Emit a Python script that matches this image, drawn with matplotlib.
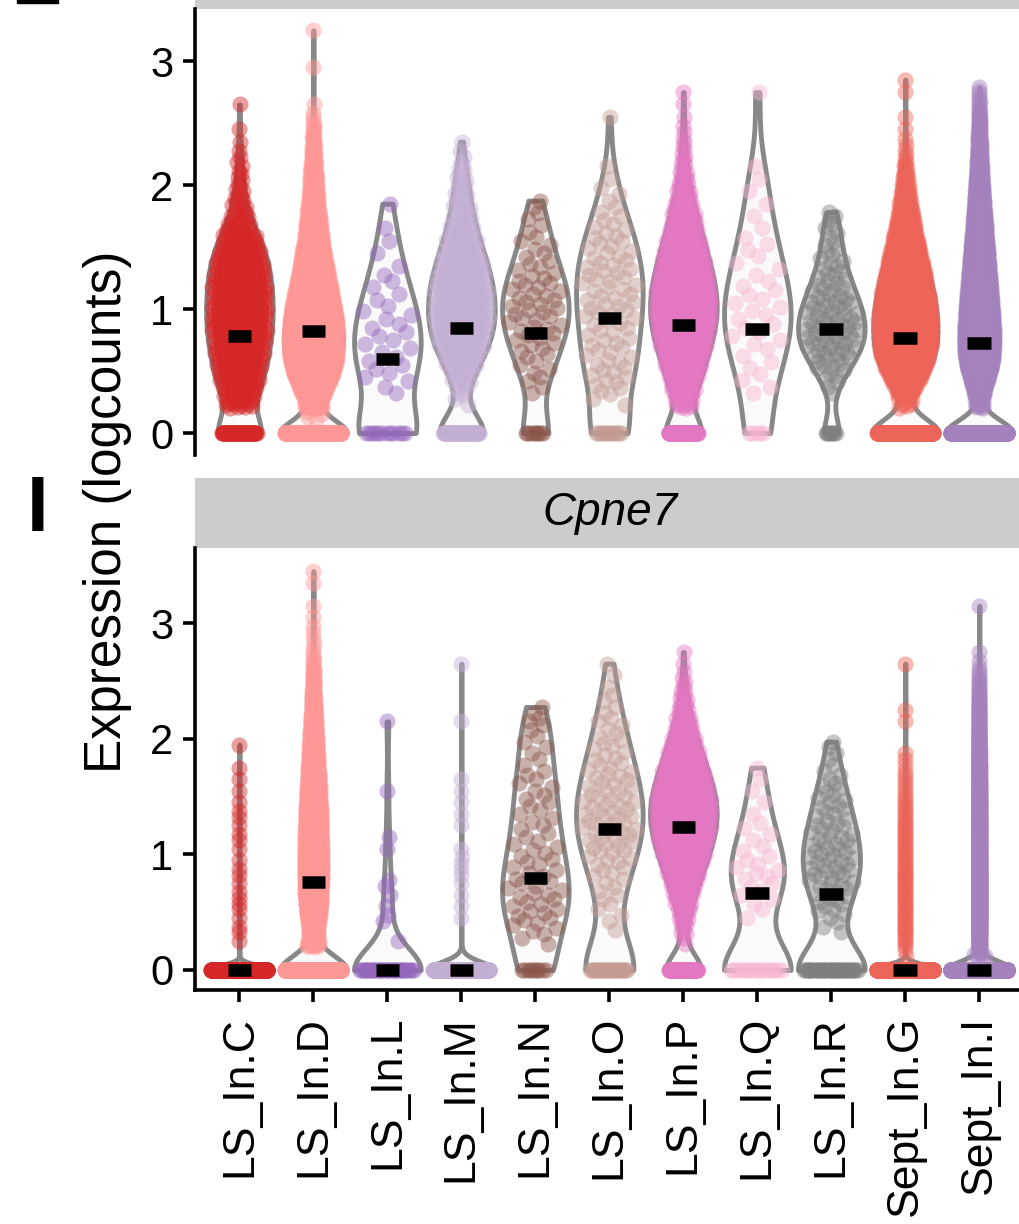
import numpy as np
import matplotlib
matplotlib.use("Agg")
import matplotlib.pyplot as plt
from matplotlib.patches import Rectangle

plt.rcParams['font.family'] = ['Liberation Sans', 'DejaVu Sans']

clusters = ["LS_In.C", "LS_In.D", "LS_In.L", "LS_In.M", "LS_In.N", "LS_In.O",
            "LS_In.P", "LS_In.Q", "LS_In.R", "Sept_In.G", "Sept_In.I"]
colors = ["#d62728", "#ff9896", "#9467bd", "#c5b0d5", "#8c564b", "#c49c94",
          "#e377c2", "#f7b6d2", "#7f7f7f", "#ee6459", "#a582be"]

# upper panel (gene name cut off at the top of the crop)
# cells with logcount 0, then cells per 0.1-wide bin starting at 0-0.1
top_zeros = [75, 680, 12, 70, 9, 14, 100, 5, 8, 375, 1490]
top_bins = [
    [0, 0, 20, 24, 27, 30, 33, 35, 36, 37, 37, 36, 35, 33, 30, 25, 17, 11, 7, 5, 4, 3, 2, 1, 1, 0, 1],
    [0, 5, 60, 130, 190, 220, 235, 240, 235, 220, 200, 175, 150, 128, 108, 90, 75, 62, 50, 40,
     32, 24, 17, 11, 6, 3, 1, 0, 0, 1, 0, 0, 1],
    [0, 0, 0, 2, 3, 3, 3, 3, 3, 3, 2, 2, 2, 1, 1, 1, 1, 0, 1],
    [0, 0, 2, 5, 10, 16, 22, 27, 30, 30, 30, 29, 27, 24, 20, 16, 13, 10, 8, 7, 6, 4, 2, 1],
    [0, 0, 0, 2, 3, 3, 4, 5, 6, 6, 6, 6, 5, 4, 3, 3, 2, 2, 2],
    [0, 0, 2, 4, 5, 5, 5, 5, 5, 6, 6, 6, 6, 6, 5, 5, 4, 3, 2, 2, 1, 1, 0, 0, 0, 1],
    [0, 0, 15, 25, 32, 38, 44, 52, 57, 60, 60, 58, 54, 48, 42, 36, 30, 24, 18, 13, 9, 6, 4, 3, 2, 1, 1, 1],
    [0, 0, 0, 2, 2, 2, 2, 3, 3, 3, 3, 3, 2, 2, 2, 2, 1, 1, 1, 1, 1, 1, 0, 0, 0, 0, 0, 1],
    [0, 0, 0, 2, 4, 7, 10, 12, 12, 11, 10, 8, 6, 5, 4, 3, 3, 3],
    [0, 0, 10, 40, 80, 110, 125, 130, 130, 128, 122, 112, 100, 88, 75, 62, 50, 38, 28, 20,
     13, 7, 3, 2, 1, 1, 0, 1, 1],
    [0, 0, 20, 100, 200, 270, 300, 300, 290, 275, 255, 235, 215, 195, 175, 155, 135, 115, 95, 78,
     62, 48, 35, 24, 15, 9, 5, 4],
]
top_medians = [0.78, 0.82, 0.60, 0.85, 0.81, 0.93, 0.87, 0.84, 0.84, 0.77, 0.73]

# Cpne7 panel
cpne7_zeros = [877, 1600, 38, 391, 10, 28, 100, 19, 42, 1770, 4300]
cpne7_bins = [
    [0, 0, 1, 2, 1, 2, 2, 1, 2, 1, 1, 2, 1, 2, 1, 1, 1, 1, 0, 1],
    [0, 0, 30, 80, 120, 145, 155, 160, 160, 160, 158, 155, 150, 142, 132, 120, 108, 96, 84, 72,
     60, 48, 36, 25, 16, 10, 5, 3, 2, 2, 1, 1, 0, 1, 1],
    [0, 0, 1, 0, 2, 1, 1, 2, 0, 0, 1, 1, 0, 0, 0, 1, 0, 0, 0, 0, 0, 1],
    [0, 0, 0, 0, 1, 1, 1, 1, 2, 2, 1, 0, 1, 1, 1, 1, 1, 0, 0, 0, 0, 1, 0, 0, 0, 0, 1],
    [0, 0, 2, 4, 5, 5, 5, 5, 4, 4, 4, 3, 3, 3, 3, 3, 3, 2, 2, 2, 2, 3, 2],
    [0, 0, 0, 1, 2, 2, 3, 3, 4, 5, 6, 7, 7, 7, 7, 6, 6, 5, 4, 4, 3, 3, 2, 2, 1, 1, 1],
    [0, 0, 2, 5, 9, 14, 20, 27, 34, 41, 48, 54, 58, 60, 58, 54, 48, 41, 34, 27, 21, 15, 10, 7, 4, 2, 1, 1],
    [0, 0, 0, 0, 1, 2, 3, 3, 4, 3, 2, 2, 2, 1, 1, 1, 1, 1],
    [0, 0, 0, 2, 3, 5, 6, 7, 8, 8, 8, 7, 6, 5, 5, 4, 3, 2, 2, 2],
    [0, 2, 5, 6, 6, 6, 6, 6, 6, 5, 5, 5, 5, 4, 4, 3, 3, 2, 2, 0, 0, 1, 1, 0, 0, 0, 1],
    [0, 10, 30, 44, 48, 50, 50, 50, 48, 46, 44, 42, 40, 38, 36, 34, 30, 26, 22, 18, 14, 12, 10, 8, 6,
     4, 2, 1, 0, 0, 0, 1],
]
cpne7_medians = [0, 0.76, 0, 0, 0.80, 1.22, 1.24, 0.67, 0.66, 0, 0]

BIN = 0.1


def expand(nzero, counts):
    # one value per cell; cells of a bin are spread evenly through it
    vals = [np.zeros(nzero)]
    for k, c in enumerate(counts):
        if c:
            vals.append(BIN * k + BIN * (np.arange(c) + 0.5) / c)
    return np.concatenate(vals)


def nrd0(x):
    # R's default bandwidth, as used by geom_violin
    hi = np.std(x, ddof=1)
    q75, q25 = np.percentile(x, [75, 25])
    lo = min(hi, (q75 - q25) / 1.34) if q75 > q25 else hi
    return 0.9 * lo * len(x) ** -0.2


def vdc(n):
    # van der Corput sequence, the offsets geom_quasirandom uses
    out = np.zeros(n)
    for i in range(n):
        k, f = i + 1, 0.5
        while k:
            out[i] += f * (k & 1)
            k >>= 1
            f *= 0.5
    return out


def draw_panel(ax, zeros, bins, medians):
    for i in range(len(clusters)):
        pos = i + 1
        vals = expand(zeros[i], bins[i])
        bw = nrd0(vals)
        fac = bw / np.std(vals, ddof=1)
        parts = ax.violinplot([vals], positions=[pos], widths=0.9, showextrema=False,
                              points=400, bw_method=lambda k, f=fac: f)
        for b in parts['bodies']:
            b.set_facecolor('#fafafa')
            b.set_edgecolor('#888888')
            b.set_linewidth(3.5)
            b.set_alpha(1)
            b.set_zorder(1)

        grid = np.linspace(vals.min(), vals.max(), 400)
        dens = np.exp(-0.5 * ((grid[:, None] - vals[None, :]) / bw) ** 2).sum(axis=1)
        w = 0.38 * np.interp(vals, grid, dens) / dens.max()
        order = np.argsort(vals, kind='stable')
        off = np.empty(len(vals))
        off[order] = 2 * vdc(len(vals)) - 1
        ax.scatter(pos + off * w, vals, s=135, color=colors[i], alpha=0.45,
                   linewidths=0, zorder=2)
        ax.hlines(medians[i], pos - 0.16, pos + 0.16, color='black', lw=9, zorder=3)


fig = plt.figure(figsize=(10.2, 12.24), dpi=100)
ax1 = fig.add_axes([195 / 1020, 1 - 455 / 1224, 825 / 1020, 446 / 1224])
ax2 = fig.add_axes([195 / 1020, 1 - 990 / 1224, 825 / 1020, 442 / 1224])

draw_panel(ax1, top_zeros, top_bins, top_medians)
draw_panel(ax2, cpne7_zeros, cpne7_bins, cpne7_medians)

for ax in (ax1, ax2):
    ax.set_xlim(0.4, 11.55)
    ax.set_yticks([0, 1, 2, 3])
    ax.spines['top'].set_visible(False)
    ax.spines['right'].set_visible(False)
    ax.spines['left'].set_linewidth(2.6)
    ax.spines['bottom'].set_linewidth(2.6)
    ax.tick_params(axis='both', length=8.6, width=2.6, labelsize=30, pad=7)
    ax.add_patch(Rectangle((0, 1), 1, 70 / 442, transform=ax.transAxes, clip_on=False,
                           facecolor='#cccccc', edgecolor='none'))

ax1.set_ylim(-0.177, 3.42)
ax1.spines['bottom'].set_visible(False)
ax1.set_xticks([])

ax2.set_ylim(-0.173, 3.65)
ax2.set_xticks(range(1, len(clusters) + 1))
ax2.set_xticklabels(clusters, rotation=90, fontsize=32)
ax2.tick_params(axis='x', pad=10)
ax2.text(0.503, 1 + 35 / 442, 'Cpne7', transform=ax2.transAxes, ha='center', va='center',
         style='italic', fontsize=33)

fig.text(108 / 1020, 1 - 512 / 1224, 'Expression (logcounts)', rotation=90,
         ha='center', va='center', fontsize=37)
fig.text(38 / 1020, 1 - 510 / 1224, 'I', fontweight='bold', fontsize=56,
         ha='center', va='center')
fig.add_artist(Rectangle((17 / 1020, 1 - 3 / 1224), 41 / 1020, 0.01,
                         transform=fig.transFigure, color='black'))

fig.savefig('out.png', dpi=100)
